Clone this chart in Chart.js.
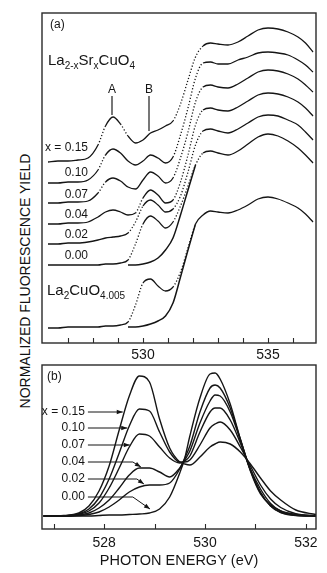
<!DOCTYPE html>
<html><head><meta charset="utf-8">
<script src="https://cdn.jsdelivr.net/npm/chart.js@4.4.0/dist/chart.umd.min.js"></script>
<style>
html,body{margin:0;padding:0;background:#fff;}
body{width:327px;height:573px;position:relative;overflow:hidden;}
#ca{position:absolute;left:0;top:0;}
#cb{position:absolute;left:0;top:355px;}
#ylab{position:absolute;left:25px;top:281px;transform:translate(-50%,-50%) rotate(-90deg);font:14px 'Liberation Sans',Arial,sans-serif;color:#111;white-space:nowrap;}
</style></head><body>
<div id="ylab">NORMALIZED FLUORESCENCE YIELD</div>
<canvas id="ca" width="327" height="365"></canvas>
<canvas id="cb" width="327" height="218"></canvas>
<script>
// ---------- Panel (a): O 1s fluorescence yield, curves offset vertically (arbitrary units)
const energyA = [526.2,526.6,527.0,527.4,527.8,528.2,528.5,528.8,529.1,529.4,529.7,530.0,530.3,530.6,530.9,531.2,531.5,531.8,532.1,532.4,532.7,533.0,533.4,533.8,534.2,534.6,535.0,535.4,535.8,536.2,536.5,536.8];
const yieldA015 = [181,182,182,183,185,198,217,226,219,207,200,203,210,213,217,222,239,263,286,297,300,299,298,301,307,313,315,314,311,306,300,291];
const yieldA010 = [160,160,161,161,163,173,188,194,190,182,178,182,188,185,180,186,208,235,265,280,281,279,279,283,286,290,291,290,288,283,278,271];
const yieldA007 = [140,140,141,141,142,150,161,165,162,156,154,163,171,167,160,165,185,211,241,256,258,256,255,259,265,271,273,272,269,264,258,251];
const yieldA004 = [119,119,120,120,121,126,131,133,131,128,130,145,153,148,140,143,161,188,218,233,235,233,232,236,242,248,250,249,246,241,235,227];
const yieldA002 = [99,99,100,100,101,103,105,106,107,110,121,137,143,138,131,134,147,171,198,212,214,212,210,214,220,226,228,227,223,218,211,203];
const yieldA000 = [78,78,78,78,78,78,79,79,80,83,99,119,127,122,115,121,137,157,178,190,192,190,188,192,199,206,209,207,202,195,188,180];
const edgeA000  = [null,null,null,null,null,null,null,null,null,78,78,79,81,85,93,105,128,153,178,null,null,null,null,null,null,null,null,null,null,null,null,null];
const yieldLa   = [15,15,16,16,16,16,17,17,18,21,38,60,64,57,52,56,71,95,119,128,132,131,130,133,138,144,146,144,140,135,129,121];
const edgeLa    = [null,null,null,null,null,null,null,null,null,16,16,17,19,22,27,40,66,93,119,null,null,null,null,null,null,null,null,null,null,null,null,null];
const seriesLabelsA = ['x = 0.15','0.10','0.07','0.04','0.02','0.00'];
const tickValuesA = [527,528,529,530,531,532,533,534,535,536];
const tickLabelsA = ['530','535'];

// ---------- Panel (b): fitted pre-edge spectra
const energyB = [526.8,527.2,527.5,527.7,527.9,528.1,528.3,528.5,528.7,528.9,529.1,529.3,529.5,529.6,529.7,529.9,530.1,530.2,530.3,530.5,530.7,530.9,531.1,531.3,531.5,531.8,532.2];
const fitB015 = [0,0.5,3,10,25,50,86,120,140,134,97,68,54,52,51,59,69,72,74,72,64,52,38,25,16,6,1.5];
const fitB010 = [0,0.3,2,7,18,37,63,90,107,105,84,64,54,54,56,71,88,92,94,86,69,50,31,17,8.5,2.3,0.3];
const fitB007 = [0,0,1.8,5,13,28,48,69,82,80,69,58,53,55,60,84,104,108,108,96,73,47,27,12.5,5,1,0];
const fitB004 = [0,0,1,3,8,16,28,41,48,48,44,39,48,56,65,93,115,121,120,104,76,46,24,10,3.6,0.6,0];
const fitB002 = [0,0,0.5,1.5,4,9,16,24,29,31,31,33,47,58,70,104,128,131,128,108,77,46,23,10,3.5,0.5,0];
const fitB000 = [0,0,0,0,0.5,1,1,1.5,2,3,7,19,43,58,80,118,142,143,137,112,77,45,22,11,5,1.5,0];
const seriesLabelsB = ['x = 0.15','0.10','0.07','0.04','0.02','0.00'];
const tickValuesB = [527,528,529,530,531,532];
const tickLabelsB = ['528','530','532'];

// ---------- drawing helpers
const FONT = "'Liberation Sans', Arial, sans-serif";
const INK = '#151515';
Chart.defaults.font.family = FONT;
Chart.defaults.color = INK;

function pts(energies, vals) {
  return energies.map((e, i) => ({x: e, y: vals[i]})).filter(p => p.y !== null);
}
function text(ctx, s, x, y, size, align) {
  ctx.font = size + 'px ' + FONT; ctx.textAlign = align || 'left';
  ctx.textBaseline = 'middle'; ctx.fillStyle = INK; ctx.fillText(s, x, y);
}
function chem(ctx, parts, x, yBase, big, small) {
  ctx.textAlign = 'left'; ctx.textBaseline = 'alphabetic'; ctx.fillStyle = INK;
  for (const [s, sub] of parts) {
    ctx.font = (sub ? small : big) + 'px ' + FONT;
    ctx.fillText(s, x, yBase + (sub ? 4 : 0));
    x += ctx.measureText(s).width;
  }
}
function arrow(ctx, p) {
  ctx.beginPath(); ctx.moveTo(p[0][0], p[0][1]);
  for (let i = 1; i < p.length; i++) ctx.lineTo(p[i][0], p[i][1]);
  ctx.stroke();
  const [x1, y1] = p[p.length - 2], [x2, y2] = p[p.length - 1];
  const a = Math.atan2(y2 - y1, x2 - x1), L = 6, W = 2.3;
  ctx.beginPath(); ctx.moveTo(x2, y2);
  ctx.lineTo(x2 - L * Math.cos(a) + W * Math.sin(a), y2 - L * Math.sin(a) - W * Math.cos(a));
  ctx.lineTo(x2 - L * Math.cos(a) - W * Math.sin(a), y2 - L * Math.sin(a) + W * Math.cos(a));
  ctx.closePath(); ctx.fill();
}

const framePlugin = {
  id: 'frame',
  afterDatasetsDraw(chart, args, opts) {
    const {ctx, chartArea: a, scales: {x, y}} = chart;
    ctx.save();
    ctx.strokeStyle = '#2a2a2a'; ctx.lineWidth = 1.4;
    ctx.strokeRect(a.left, a.top, a.right - a.left, a.bottom - a.top);
    ctx.lineWidth = 1.1;
    for (const v of opts.ticks) {
      const px = Math.round(x.getPixelForValue(v)) + 0.5;
      ctx.beginPath(); ctx.moveTo(px, a.bottom); ctx.lineTo(px, a.bottom - 5); ctx.stroke();
    }
    ctx.strokeStyle = INK; ctx.fillStyle = INK; ctx.lineWidth = 1;
    if (opts.draw) opts.draw(ctx, a, x, y);
    ctx.restore();
  }
};

function steepDash(c) {
  const dx = Math.abs(c.p1.x - c.p0.x), dy = Math.abs(c.p1.y - c.p0.y);
  return dy > 1.4 * dx ? [1.2, 2] : undefined;
}
function lineDs(energies, vals, extra) {
  return Object.assign({
    data: pts(energies, vals), borderColor: INK, borderWidth: 1.3, pointRadius: 0,
    fill: false, cubicInterpolationMode: 'monotone'
  }, extra || {});
}

// ---------- Chart (a)
const curvesA = [yieldA015, yieldA010, yieldA007, yieldA004, yieldA002, yieldA000];
const labelOffsetA = [14, 10, 8, 9, 9, 9];
new Chart(document.getElementById('ca'), {
  type: 'line',
  data: {
    datasets: [
      ...curvesA.map(v => lineDs(energyA, v, {segment: {borderDash: steepDash}})),
      lineDs(energyA, yieldLa, {segment: {borderDash: steepDash}}),
      lineDs(energyA, edgeA000, {borderWidth: 1.5}),
      lineDs(energyA, edgeLa, {borderWidth: 1.5})
    ]
  },
  options: {
    responsive: false, animation: false, events: [],
    layout: {padding: {left: 42, right: 11, top: 13, bottom: 0}},
    plugins: {
      legend: {display: false}, tooltip: {enabled: false},
      frame: {
        ticks: tickValuesA,
        draw(ctx, a, x, y) {
          text(ctx, '(a)', a.left + 8, a.top + 12, 12);
          chem(ctx, [['La', 0], ['2-x', 1], ['Sr', 0], ['x', 1], ['CuO', 0], ['4', 1]], a.left + 6, a.top + 52, 15, 10);
          chem(ctx, [['La', 0], ['2', 1], ['CuO', 0], ['4.005', 1]], a.left + 5, a.top + 282, 15, 10);
          // A / B markers
          const marks = [['A', 528.76, 228], ['B', 530.24, 212]];
          ctx.strokeStyle = '#555'; ctx.lineWidth = 1.6;
          for (const [t, e, bot] of marks) {
            const px = x.getPixelForValue(e);
            ctx.beginPath(); ctx.moveTo(px, y.getPixelForValue(247)); ctx.lineTo(px, y.getPixelForValue(bot)); ctx.stroke();
            text(ctx, t, px, y.getPixelForValue(253), 12, 'center');
          }
          // series labels
          curvesA.forEach((v, i) => {
            text(ctx, seriesLabelsA[i], x.getPixelForValue(527.8), y.getPixelForValue(v[0]) - labelOffsetA[i], 12, 'right');
          });
        }
      }
    },
    scales: {
      x: {
        type: 'linear', min: 525.96, max: 536.92,
        afterBuildTicks: s => { s.ticks = tickValuesA.map(v => ({value: v})); },
        afterFit: s => { s.height = 22; },
        grid: {display: false, drawTicks: false}, border: {display: false},
        ticks: {padding: 4, font: {size: 14}, color: INK, autoSkip: false, maxRotation: 0,
          callback: v => tickLabelsA.includes(String(v)) ? String(v) : ''}
      },
      y: {display: false, min: 0, max: 330}
    }
  },
  plugins: [framePlugin]
});

// ---------- Chart (b)
const curvesB = [fitB015, fitB010, fitB007, fitB004, fitB002, fitB000];
const arrowsB = [
  {h: 104, path: [[527.68, 104], [528.37, 104]]},
  {h: 88,  path: [[527.68, 88], [528.46, 88]]},
  {h: 71,  path: [[527.68, 71], [528.51, 71]]},
  {h: 54,  path: [[527.68, 54], [528.57, 54], [528.73, 49]]},
  {h: 37,  path: [[527.68, 37], [528.65, 37], [528.79, 32]]},
  {h: 19,  path: [[527.68, 19], [528.57, 19], [528.91, 7]]}
];
new Chart(document.getElementById('cb'), {
  type: 'line',
  data: {datasets: curvesB.map(v => lineDs(energyB, v, {borderWidth: 1.4}))},
  options: {
    responsive: false, animation: false, events: [],
    layout: {padding: {left: 42, right: 11, top: 10, bottom: 0}},
    plugins: {
      legend: {display: false}, tooltip: {enabled: false},
      frame: {
        ticks: tickValuesB,
        draw(ctx, a, x, y) {
          text(ctx, '(b)', a.left + 5, a.top + 12, 12);
          ctx.lineWidth = 1;
          arrowsB.forEach((ar, i) => {
            text(ctx, seriesLabelsB[i], x.getPixelForValue(527.62), y.getPixelForValue(ar.h), 12, 'right');
            arrow(ctx, ar.path.map(([e, h]) => [x.getPixelForValue(e), y.getPixelForValue(h)]));
          });
        }
      }
    },
    scales: {
      x: {
        type: 'linear', min: 526.77, max: 532.2,
        afterBuildTicks: s => { s.ticks = tickValuesB.map(v => ({value: v})); },
        afterFit: s => { s.height = 44; },
        grid: {display: false, drawTicks: false}, border: {display: false},
        ticks: {padding: 6, font: {size: 14}, color: INK, autoSkip: false, maxRotation: 0,
          callback: v => tickLabelsB.includes(String(v)) ? String(v) : ''},
        title: {display: true, text: 'PHOTON ENERGY (eV)', font: {size: 14.5}, color: INK, padding: {top: 0, bottom: 3}}
      },
      y: {display: false, min: -13, max: 151}
    }
  },
  plugins: [framePlugin]
});
</script>
</body></html>
